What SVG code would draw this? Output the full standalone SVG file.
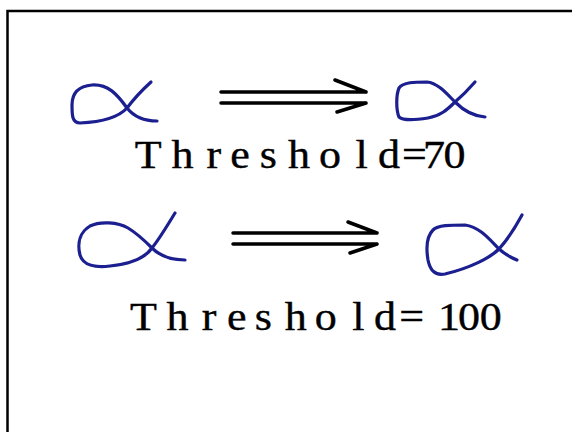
<svg xmlns="http://www.w3.org/2000/svg" width="572" height="432" viewBox="0 0 572 432">
<style>
.alpha{fill:none;stroke:#1b1f8f;stroke-width:3.2;stroke-linecap:round;stroke-linejoin:round}
.arr{fill:none;stroke:#000;stroke-width:3.5;stroke-linecap:round}
.lbl{font-family:"Liberation Serif","Times New Roman",serif;font-size:40px;fill:#000;stroke:#000;stroke-width:0.4;text-anchor:middle}
.frame{fill:none;stroke:#000;stroke-width:2.5}
</style>
<rect width="572" height="432" fill="#fff"/>
<path class="frame" d="M7.5,432 V11 H572"/>
<g id="alpha1">
<path class="alpha" d="M151,82 C140,92 133,100 127,108 C118,118 100,122 80,123 C72,123 72,115 72,105 C72,92 80,86 92,85 C108,84 117,94 127,108 C135,118 146,121 157,121"/>
</g>
<g id="alpha2">
<path class="alpha" d="M475,82 C468,90 462,96 455,102 C447,110 440,116 428,118 C415,120 403,121 399,117 C396,110 396,95 399,88 C403,82 415,82 427,82 C438,83 447,94 455,102 C463,110 472,116 485,117"/>
</g>
<g id="alpha3">
<path class="alpha" d="M175,213 C167,226 160,238 152,248 C145,258 130,264 110,266 C95,268 83,265 80,255 C77,243 80,232 90,226 C100,221 118,222 128,228 C138,234 146,242 152,248 C160,256 170,260 185,260"/>
</g>
<g id="alpha4">
<path class="alpha" d="M522,215 C515,228 507,240 499,249 C490,258 470,268 445,274 C435,276 430,270 428,260 C426,248 427,236 433,230 C438,225 450,225 465,225 C480,227 490,240 499,249 C506,255 512,258 517,260"/>
</g>
<g id="connectors">
<path class="arr" d="M221,92 H365 M221,103 H365 M335,80 L366,92 M337,112 L366,103"/>
<path class="arr" d="M233,233 H377 M233,244 H377 M348,222 L377,233 M350,253 L377,244"/>
</g>
<g id="label1">
<text class="lbl" transform="scale(1.1,1)" y="168" x="134.8 165.9 194.5 218.2 243.9 271.8 300 328.8 353.6 376.8 394.6 413.2">Threshold=70</text>
</g>
<g id="label2">
<text class="lbl" transform="scale(1.1,1)" y="330" x="130.3 161.4 190 215.2 239.4 268.9 296.2 325.7 350 374.3 390.9 408.2 426.4 446.2">Threshold= 100</text>
</g>
</svg>
